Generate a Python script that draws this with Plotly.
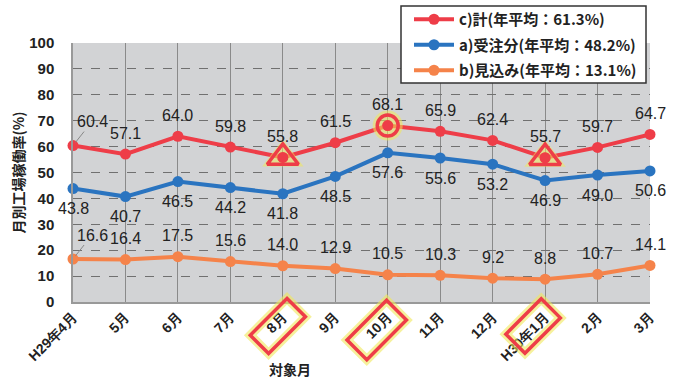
import plotly.graph_objects as go
import math

months = ["H29年4月", "5月", "6月", "7月", "8月", "9月", "10月", "11月", "12月", "H30年1月", "2月", "3月"]
total = [60.4, 57.1, 64.0, 59.8, 55.8, 61.5, 68.1, 65.9, 62.4, 55.7, 59.7, 64.7]
orders = [43.8, 40.7, 46.5, 44.2, 41.8, 48.5, 57.6, 55.6, 53.2, 46.9, 49.0, 50.6]
forecast = [16.6, 16.4, 17.5, 15.6, 14.0, 12.9, 10.5, 10.3, 9.2, 8.8, 10.7, 14.1]
legend_names = ["c)計(年平均：61.3%)", "a)受注分(年平均：48.2%)", "b)見込み(年平均：13.1%)"]
triangle_idx = [4, 9]
circle_idx = [6]
boxed_idx = [4, 6, 9]

RED = "#ee3d48"
BLUE = "#2a74c0"
ORANGE = "#f5834a"

W, H = 678, 381
ML, MR, MT, MB = 73, 28, 43, 79
PW, PH = W - ML - MR, H - MT - MB
x = list(range(len(months)))

fig = go.Figure()

def line_trace(vals, color, name, rank):
    fig.add_trace(go.Scatter(
        x=x, y=vals, mode="lines+markers", name=name, legendrank=rank,
        legendgroup=name,
        line=dict(color=color, width=4), marker=dict(color=color, size=11),
        cliponaxis=False))

line_trace(forecast, ORANGE, legend_names[2], 3)
line_trace(orders, BLUE, legend_names[1], 2)
line_trace(total, RED, legend_names[0], 1)

# highlight markers
tx = [x[i] for i in triangle_idx]
ty = [total[i] for i in triangle_idx]
fig.add_trace(go.Scatter(x=tx, y=ty, mode="markers", showlegend=False, hoverinfo="skip",
                         marker=dict(symbol="triangle-up", size=36, color="rgba(240,232,90,0.55)"), cliponaxis=False))
fig.add_trace(go.Scatter(x=tx, y=ty, mode="markers", showlegend=False, hoverinfo="skip",
                         marker=dict(symbol="triangle-up-open", size=27, color=RED, line=dict(width=3.5, color=RED)), cliponaxis=False))
cx = [x[i] for i in circle_idx]
cy = [total[i] for i in circle_idx]
fig.add_trace(go.Scatter(x=cx, y=cy, mode="markers", showlegend=False, hoverinfo="skip",
                         marker=dict(symbol="circle", size=30, color="rgba(240,232,90,0.55)"), cliponaxis=False))
fig.add_trace(go.Scatter(x=cx, y=cy, mode="markers", showlegend=False, hoverinfo="skip",
                         marker=dict(symbol="circle-open", size=21, color=RED, line=dict(width=3.5, color=RED)), cliponaxis=False))
fig.add_trace(go.Scatter(x=tx + cx, y=ty + cy, mode="markers", showlegend=False, hoverinfo="skip",
                         marker=dict(symbol="circle", size=11, color=RED), cliponaxis=False))

LABEL_FONT = dict(family="Liberation Sans Narrow, Liberation Sans, Arial", size=16, color="#222")
ann = []
for i, v in enumerate(total):
    if i == 0:
        ann.append(dict(x=x[i], y=v, text=f"{v:.1f}", showarrow=True, arrowhead=0, arrowwidth=1,
                        arrowcolor="#888", ax=19, ay=-24, standoff=4, font=LABEL_FONT))
    else:
        ann.append(dict(x=x[i], y=v, text=f"{v:.1f}", showarrow=False, yshift=21, font=LABEL_FONT))
for i, v in enumerate(orders):
    ann.append(dict(x=x[i], y=v, text=f"{v:.1f}", showarrow=False, yshift=-20, font=LABEL_FONT))
for i, v in enumerate(forecast):
    if i == 0:
        ann.append(dict(x=x[i], y=v, text=f"{v:.1f}", showarrow=True, arrowhead=0, arrowwidth=1,
                        arrowcolor="#888", ax=19, ay=-24, standoff=4, font=LABEL_FONT))
    else:
        ann.append(dict(x=x[i], y=v, text=f"{v:.1f}", showarrow=False, yshift=21, font=LABEL_FONT))

TITLE_FONT = dict(family="Noto Sans CJK JP", size=14, color="#222", weight="bold")
# axis titles
ann.append(dict(xref="paper", yref="paper", x=(290 - ML) / PW, y=-(369 - MT - PH) / PH,
                text="対象月", showarrow=False, font=TITLE_FONT,
                xanchor="center", yanchor="middle"))
ann.append(dict(xref="paper", yref="paper", x=-(ML - 17) / PW, y=0.5, textangle=-90,
                text="月別工場稼働率(%)", showarrow=False, font=TITLE_FONT,
                xanchor="center", yanchor="middle"))

# boxes around highlighted month labels
def to_paper(px, py):
    return ((px - ML) / PW, (MT + PH - py) / PH)

box_dims = {4: (-5, 24, 52, 26), 6: (-11, 28, 56, 28), 9: (-12, 24, 50, 27)}
shapes = []
for i in boxed_idx:
    dx, dy, length, width = box_dims[i]
    cxp = ML + x[i] * PW / (len(months) - 1) + dx
    cyp = MT + PH + dy
    u = (math.cos(math.pi / 4), -math.sin(math.pi / 4))
    vv = (math.cos(math.pi / 4), math.sin(math.pi / 4))
    a, b = length / 2, width / 2
    pts = []
    for sa, sb in [(1, 1), (1, -1), (-1, -1), (-1, 1)]:
        px = cxp + sa * a * u[0] + sb * b * vv[0]
        py = cyp + sa * a * u[1] + sb * b * vv[1]
        pts.append(to_paper(px, py))
    path = "M " + " L ".join(f"{p[0]:.4f},{p[1]:.4f}" for p in pts) + " Z"
    shapes.append(dict(type="path", xref="paper", yref="paper", path=path,
                       line=dict(color="rgba(240,232,90,0.6)", width=9), layer="above"))
    shapes.append(dict(type="path", xref="paper", yref="paper", path=path,
                       fillcolor="rgba(255,255,255,0)", line=dict(color=RED, width=3.5), layer="above"))

# legend frame
lx0, ly0 = to_paper(401, 83)
lx1, ly1 = to_paper(646, 6)
shapes.append(dict(type="rect", xref="paper", yref="paper", x0=lx0, y0=ly0, x1=lx1, y1=ly1,
                   fillcolor="white", line=dict(color="#333", width=1.5), layer="above"))

lgx, lgy = to_paper(409, 3)
fig.update_layout(
    width=W, height=H,
    margin=dict(l=ML, r=MR, t=MT, b=MB, autoexpand=False),
    paper_bgcolor="white", plot_bgcolor="#d2d3d5",
    font=dict(family="Liberation Sans, Arial", color="#222"),
    annotations=ann, shapes=shapes,
    legend=dict(x=lgx, y=lgy, xanchor="left", yanchor="top",
                bgcolor="rgba(0,0,0,0)", borderwidth=0,
                font=dict(family="Noto Sans CJK JP", size=15, color="#222", weight="bold"),
                tracegroupgap=3, itemwidth=40),
    showlegend=True,
)
fig.update_xaxes(range=[0, len(months) - 1], tickvals=x, ticktext=months, tickangle=-45,
                 showgrid=True, gridcolor="#8a8a8a", gridwidth=1.2, zeroline=False,
                 showline=True, linecolor="#999", linewidth=1.5,
                 tickfont=dict(family="Liberation Sans, Arial", size=14, color="#222", weight="bold"),
                 ticks="")
fig.update_yaxes(range=[0, 100], dtick=10, showgrid=True, gridcolor="#707070", griddash="dash",
                 gridwidth=1, zeroline=False, showline=True, linecolor="#999", linewidth=1.5,
                 tickfont=dict(family="Liberation Sans, Arial", size=15, color="#222", weight="bold"),
                 ticks="", ticklabelstandoff=14)

fig.write_html("out.html")
